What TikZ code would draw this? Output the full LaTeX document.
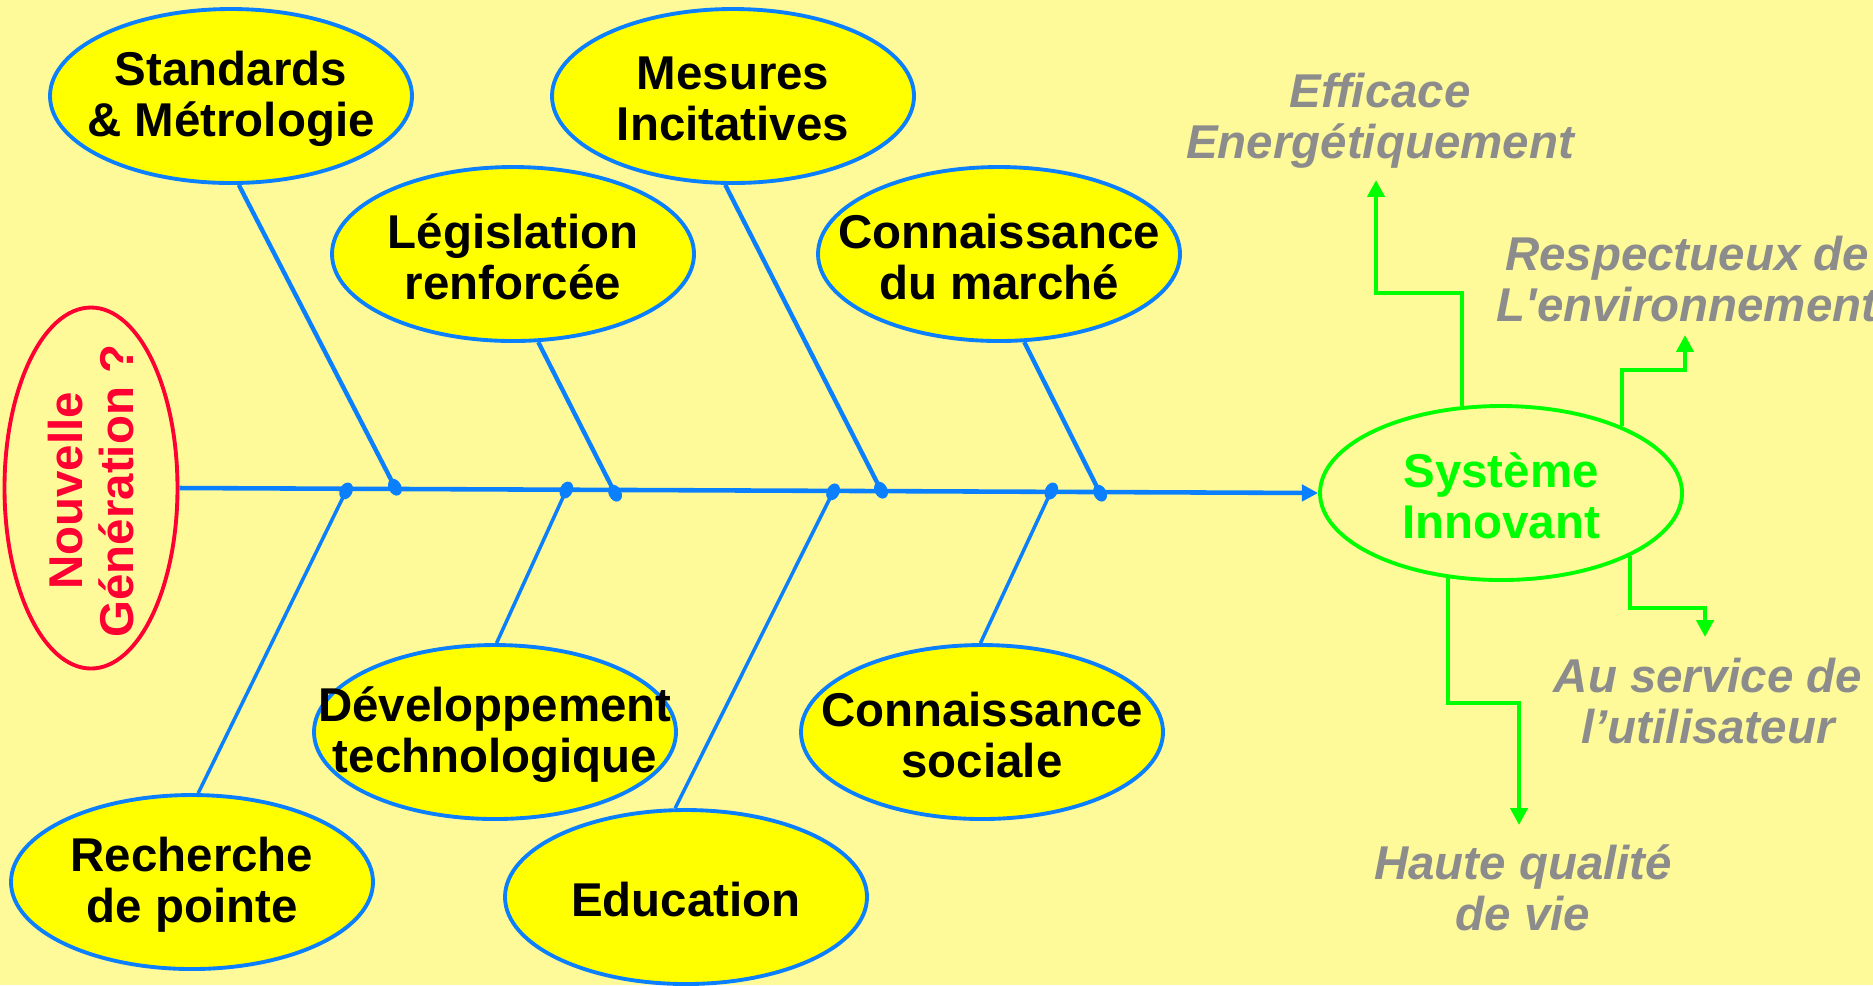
\documentclass[tikz,border=0pt]{standalone}
\usepackage{fontspec}
\setmainfont{Liberation Sans}
\usetikzlibrary{arrows.meta, positioning, shapes.geometric}
\definecolor{bgcolor}{HTML}{FFFA99}
\definecolor{bonecolor}{HTML}{0A80FF}
\definecolor{ovalcolor}{HTML}{FFFF00}
\definecolor{goalcolor}{HTML}{00FF00}
\definecolor{askcolor}{HTML}{FF0033}
\definecolor{outcolor}{HTML}{8C8C8C}

\begin{document}
\begin{tikzpicture}[x=0.1mm, y=-0.1mm,
    oval/.style={ellipse, draw=bonecolor, fill=ovalcolor, line width=1.1pt,
                 minimum width=3.62cm, minimum height=1.74cm, inner sep=0pt},
    txt/.style={align=center, inner sep=0pt, yshift=-0.3mm,
                font=\fontsize{13.5}{14.5}\selectfont\bfseries},
    outtxt/.style={txt, text=outcolor,
                   font=\fontsize{13.5}{14.5}\selectfont\bfseries\itshape},
    spine/.style={-{Triangle[length=4.6pt, width=4.6pt]}, bonecolor, line width=1.3pt},
    bone/.style={-{Ellipse[length=5pt, width=3.6pt]}, bonecolor, line width=1.25pt},
    lowbone/.style={bone, line width=1pt},
    garr/.style={-{Triangle[length=4.8pt, width=4.8pt]}, goalcolor, line width=1.2pt}
]
    \fill[bgcolor] (0,0) rectangle (1873,985);
    \useasboundingbox (0,0) rectangle (1873,985);

    % head and tail of the fish
    \node[oval, draw=askcolor, fill=none, minimum width=1.73cm, minimum height=3.61cm]
          (nou) at (91,488) {};
    \node[txt, text=askcolor, rotate=90, yshift=0pt] (nou-t) at (nou) {Nouvelle\\Génération ?};
    \node[oval, draw=goalcolor, fill=none] (sys) at (1501,493) {};
    \node[txt, text=goalcolor] (sys-t) at (sys) {Système\\Innovant};

    % causes above the spine
    \node[oval] (std) at (231,96)  {};
    \node[oval] (mes) at (733,96)  {};
    \node[oval] (leg) at (513,254) {};
    \node[oval] (mar) at (999,254) {};
    \node[txt] (std-t) at (std) {Standards\\\& Métrologie};
    \node[txt] (mes-t) at (mes) {Mesures\\Incitatives};
    \node[txt] (leg-t) at (leg) {Législation\\renforcée};
    \node[txt] (mar-t) at (mar) {Connaissance\\du marché};

    % causes below the spine
    \node[oval] (dev) at (495,732) {};
    \node[oval] (soc) at (982,732) {};
    \node[oval] (rec) at (192,882) {};
    \node[oval] (edu) at (686,897) {};
    \node[txt] (dev-t) at (dev) {Développement\\technologique};
    \node[txt] (soc-t) at (soc) {Connaissance\\sociale};
    \node[txt] (rec-t) at (rec) {Recherche\\de pointe};
    \node[txt] (edu-t) at (edu) {Education};

    % junctions on the spine
    \coordinate (j1) at (399,495);
    \coordinate (j2) at (619,501);
    \coordinate (j3) at (885,498);
    \coordinate (j4) at (1104,501);
    \coordinate (j5) at (350,483);
    \coordinate (j6) at (570,482);
    \coordinate (j7) at (837,484);
    \coordinate (j8) at (1055,483);

    \draw[spine] (nou.east) -- (sys.west);
    \draw[bone] (std.-85) -- (j1);
    \draw[bone] (leg.-74) -- (j2);
    \draw[bone] (mes.-95) -- (j3);
    \draw[bone] (mar.-74) -- (j4);
    \draw[lowbone] (rec.86) -- (j5);
    \draw[lowbone] (dev.89) -- (j6);
    \draw[lowbone] (edu.97) -- (j7);
    \draw[lowbone] (soc.91) -- (j8);

    % outcomes
    \node[outtxt] (eff) at (1380,118) {Efficace\\Energétiquement};
    \node[outtxt] (res) at (1687,276) {Respectueux de\\L\textquotesingle environnement};
    \node[outtxt] (ser) at (1708,698) {Au service de\\l’utilisateur};
    \node[outtxt] (hau) at (1523,885) {Haute qualité\\de vie};
    \coordinate (eff-in) at (1376,180);
    \coordinate (res-in) at (1685,335);
    \coordinate (ser-in) at (1705,637);
    \coordinate (hau-in) at (1519,825);

    \draw[garr] (sys.114) |- (1376,293) -- (eff-in);
    \draw[garr] (sys.29) |- (1685,370) -- (res-in);
    \draw[garr] (sys.-26) |- (1705,608) -- (ser-in);
    \draw[garr] (sys.-122) |- (1519,703) -- (hau-in);
\end{tikzpicture}
\end{document}
